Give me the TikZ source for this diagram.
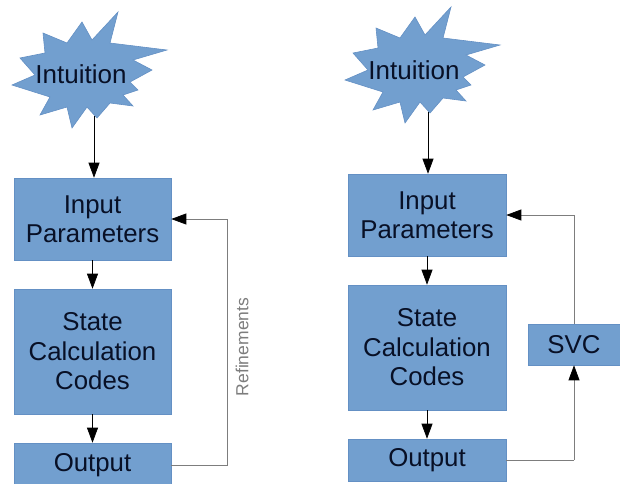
\documentclass[tikz,border=0pt]{standalone}
\usepackage{fontspec}
\setmainfont{Liberation Sans}
\usetikzlibrary{arrows.meta}
\definecolor{boxblue}{RGB}{114,159,207}
\definecolor{boxedge}{RGB}{100,144,196}
\definecolor{txt}{RGB}{8,16,38}
\definecolor{fb}{RGB}{125,125,125}
\tikzset{
  blk/.style={draw=boxedge, line width=0.6pt, fill=boxblue, text=txt, align=center,
    inner sep=0pt, font=\fontsize{25.8}{29.5}\selectfont},
  starshape/.style={draw=boxedge, line width=0.6pt, fill=boxblue},
  lbl/.style={text=txt, inner sep=0pt, font=\fontsize{26}{29.5}\selectfont},
  flow/.style={draw=black, line width=0.7pt, -{Triangle[length=15pt,width=11pt,color=black]}},
  backline/.style={draw=fb, line width=0.7pt}
}
\begin{document}
\begin{tikzpicture}[x=1pt,y=-1pt]
\useasboundingbox (0,0) rectangle (620,483);
% stars
\foreach \dx/\dy in {0/0, 333/-5}{
  \begin{scope}[shift={(\dx,\dy)}]
  \draw[starshape] (118,12) -- (110,43) -- (167,50) -- (133,60) -- (152,70) -- (130,82)
    -- (138,90) -- (123,95) -- (133,106) -- (110,103) -- (97,118) -- (87,107) -- (72,128)
    -- (67,107) -- (40,115) -- (50,97) -- (12,85) -- (35,75) -- (20,58) -- (45,53)
    -- (43,33) -- (67,43) -- (82,22) -- (92,40) -- cycle;
  \end{scope}
}
\node[lbl] (int1) at (81,74) {Intuition};
\node[lbl] (int2) at (414,70) {Intuition};
\coordinate (s1) at (94,116);
\coordinate (s2) at (428,112);

% left column
\node[blk, minimum width=157pt, minimum height=82pt] (in1) at (92.5,219) {Input\\Parameters};
\node[blk, minimum width=157pt, minimum height=125pt] (st1) at (92.5,351.5) {State\\Calculation\\Codes};
\node[blk, minimum width=157pt, minimum height=44pt] (out1) at (92.5,465) {Output};

% right column
\node[blk, minimum width=158pt, minimum height=82pt] (in2) at (427,215) {Input\\Parameters};
\node[blk, minimum width=158pt, minimum height=125pt] (st2) at (427,347.5) {State\\Calculation\\Codes};
\node[blk, minimum width=158pt, minimum height=42pt] (out2) at (427,460) {Output};
\node[blk, minimum width=92pt, minimum height=41pt] (svc) at (574,344.5) {SVC};

% flow arrows
\draw[flow] (s1) -- (s1 |- in1.north);
\draw[flow] (in1) -- (st1);
\draw[flow] (st1) -- (out1);
\draw[flow] (s2) -- (s2 |- in2.north);
\draw[flow] (in2) -- (st2);
\draw[flow] (st2) -- (out2);

% left feedback
\coordinate (r1) at (227,465);
\coordinate (r2) at (227,219);
\draw[backline] (out1.east) -- (r1) -- (r2);
\draw[flow, draw=fb] (r2) -- (in1.east);
\node[rotate=90, text=fb, inner sep=0pt, font=\fontsize{17.5}{20}\selectfont] (ref) at (242,347) {Refinements};

% right feedback
\coordinate (q1) at (574,460);
\coordinate (q2) at (574,215);
\draw[backline] (out2.east) -- (q1);
\draw[flow, draw=fb] (q1) -- (svc.south);
\draw[backline] (svc.north) -- (q2);
\draw[flow, draw=fb] (q2) -- (in2.east);
\end{tikzpicture}
\end{document}
